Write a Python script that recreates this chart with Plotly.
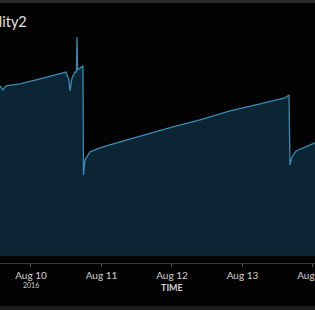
import plotly.graph_objects as go

# ---- data ----
times = [
    "2016-08-09 13:27", "2016-08-09 14:28", "2016-08-09 15:29", "2016-08-09 20:15",
    "2016-08-10 03:04", "2016-08-10 09:52", "2016-08-10 11:55", "2016-08-10 12:56",
    "2016-08-10 13:17", "2016-08-10 13:57", "2016-08-10 14:59", "2016-08-10 15:29",
    "2016-08-10 15:40", "2016-08-10 15:50", "2016-08-10 17:22", "2016-08-10 17:42",
    "2016-08-10 17:52", "2016-08-10 18:23", "2016-08-10 20:05", "2016-08-10 23:29",
    "2016-08-11 06:18", "2016-08-11 16:31", "2016-08-12 00:00", "2016-08-12 09:32",
    "2016-08-12 19:45", "2016-08-13 05:58", "2016-08-13 14:28", "2016-08-13 15:50",
    "2016-08-13 16:10", "2016-08-13 16:51", "2016-08-13 18:13", "2016-08-13 21:17",
    "2016-08-14 00:41",
]
quality2 = [
    77.3, 75.5, 77.3, 78.2,
    80.5, 82.7, 83.6, 80.0,
    75.0, 80.9, 83.6, 83.6,
    99.5, 84.5, 86.4, 86.4,
    36.8, 43.6, 47.3, 49.1,
    51.8, 55.9, 58.6, 61.8,
    65.9, 69.1, 71.8, 73.2,
    41.4, 45.0, 47.7, 49.5,
    51.4,
]
tick_vals = ["2016-08-10", "2016-08-11", "2016-08-12", "2016-08-13", "2016-08-14"]
tick_text = ["Aug 10", "Aug 11", "Aug 12", "Aug 13", "Aug 14"]
year_label = "2016"
title_text = "Quality2"
x_title = "TIME"

fig = go.Figure()
fig.add_trace(go.Scatter(
    x=times, y=quality2, mode="lines",
    line=dict(color="#3b8ab3", width=1.3),
    fill="tozeroy", fillcolor="#0c2535",
    hoverinfo="skip",
))

W = 320
H_PLOT = 233
def py(p):  # pixel row -> paper y
    return (263 - p) / H_PLOT
def pxr(p):  # pixel column -> paper x (plot area spans 0..315)
    return p / 315

fig.update_layout(
    width=W, height=310,
    margin=dict(l=0, r=W - 315, t=30, b=47, autoexpand=False),
    paper_bgcolor="#030303", plot_bgcolor="#030303",
    showlegend=False,
    font=dict(family="Lato, sans-serif", color="#cfcfcf"),
    xaxis=dict(
        type="date",
        range=["2016-08-09 13:27", "2016-08-14 00:41"],
        tickvals=tick_vals, ticktext=tick_text,
        tickfont=dict(size=10, color="#d0d0d0"),
        ticklabeloverflow="allow", automargin=False,
        showgrid=False, zeroline=False,
        showline=True, linecolor="#3a3a3a", linewidth=1,
        ticks="outside", ticklen=3, tickcolor="#555555", tickwidth=1,
    ),
    yaxis=dict(range=[-3.2, 102.7], visible=False, showgrid=False, zeroline=False,
               automargin=False),
    annotations=[
        dict(text=title_text, xref="paper", yref="paper", x=pxr(28.5), y=py(21.5),
             xanchor="right", yanchor="middle", showarrow=False,
             font=dict(size=14.5, color="#e0e0e0", family="Lato, sans-serif")),
        dict(text=year_label, xref="x", yref="paper", x=tick_vals[0], y=py(285),
             xanchor="center", yanchor="middle", showarrow=False,
             font=dict(size=7, color="#d0d0d0", family="Lato, sans-serif")),
        dict(text="<b>" + x_title + "</b>", xref="paper", yref="paper", x=pxr(172), y=py(287),
             xanchor="center", yanchor="middle", showarrow=False,
             font=dict(size=9, color="#d0d0d0", family="Lato, sans-serif")),
    ],
    shapes=[
        dict(type="rect", xref="paper", yref="paper", x0=0, x1=pxr(W), y0=py(3), y1=py(0),
             fillcolor="#2a2a2a", line=dict(width=0), layer="above"),
        dict(type="rect", xref="paper", yref="paper", x0=0, x1=pxr(W), y0=py(310), y1=py(306),
             fillcolor="#1e1e1e", line=dict(width=0), layer="above"),
    ],
)

fig.write_html(
    "out.html",
    config={"displayModeBar": False},
    post_script="document.documentElement.style.overflow='hidden';"
                "document.body.style.overflow='hidden';"
                "document.body.style.margin='0';"
                "document.body.style.background='#030303';",
)
